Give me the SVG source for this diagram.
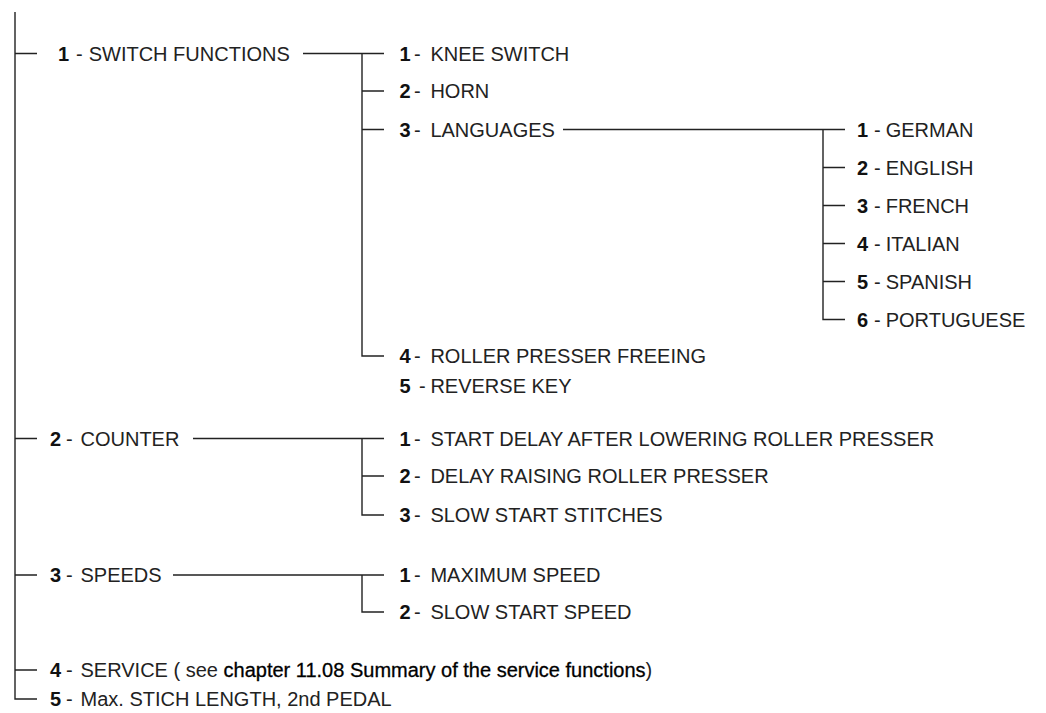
<svg xmlns="http://www.w3.org/2000/svg" width="1046" height="713" viewBox="0 0 1046 713">
<style>
text{font-family:"Liberation Sans",Arial,sans-serif;font-size:20px;fill:#222}
.n{font-weight:bold;fill:#111}
.c{fill:none;stroke:#222;stroke-width:1.4}
.d{fill:#000;stroke:#000;stroke-width:0.3}
</style>
<rect width="1046" height="713" fill="#fff"/>
<g id="connectors" class="c">
<path d="M15,12 V699 H37"/>
<path d="M15,53.5 H37 M15,438.5 H37 M15,575 H37 M15,670 H37"/>
<path d="M303,53.5 H384 M362,53.5 V356 H384 M362,91 H384 M362,129.5 H384"/>
<path d="M563,129.5 H845 M823,129.5 V319.5 H845 M823,167.5 H845 M823,205.5 H845 M823,243.5 H845 M823,281.5 H845"/>
<path d="M193,438.5 H384 M362,438.5 V515 H384 M362,476 H384"/>
<path d="M173,575 H384 M362,575 V612 H384"/>
</g>
<g id="n1"><text y="60.5"><tspan class="n" x="58">1</tspan><tspan x="76">-</tspan><tspan x="88.7">SWITCH FUNCTIONS</tspan></text></g>
<g id="n1-1"><text y="60.5"><tspan class="n" x="399.5">1</tspan><tspan x="414">-</tspan><tspan x="430.4">KNEE SWITCH</tspan></text></g>
<g id="n1-2"><text y="98"><tspan class="n" x="399.5">2</tspan><tspan x="414">-</tspan><tspan x="430.4">HORN</tspan></text></g>
<g id="n1-3"><text y="136.5"><tspan class="n" x="399.5">3</tspan><tspan x="414">-</tspan><tspan x="430.4">LANGUAGES</tspan></text></g>
<g id="n1-3-1"><text y="136.5"><tspan class="n" x="857">1</tspan><tspan x="874">-</tspan><tspan x="885.7">GERMAN</tspan></text></g>
<g id="n1-3-2"><text y="174.5"><tspan class="n" x="857">2</tspan><tspan x="874">-</tspan><tspan x="885.7">ENGLISH</tspan></text></g>
<g id="n1-3-3"><text y="212.5"><tspan class="n" x="857">3</tspan><tspan x="874">-</tspan><tspan x="885.7">FRENCH</tspan></text></g>
<g id="n1-3-4"><text y="250.5"><tspan class="n" x="857">4</tspan><tspan x="874">-</tspan><tspan x="885.7">ITALIAN</tspan></text></g>
<g id="n1-3-5"><text y="288.5"><tspan class="n" x="857">5</tspan><tspan x="874">-</tspan><tspan x="885.7">SPANISH</tspan></text></g>
<g id="n1-3-6"><text y="326.5"><tspan class="n" x="857">6</tspan><tspan x="874">-</tspan><tspan x="885.7">PORTUGUESE</tspan></text></g>
<g id="n1-4"><text y="363"><tspan class="n" x="399.5">4</tspan><tspan x="414">-</tspan><tspan x="430.4">ROLLER PRESSER FREEING</tspan></text></g>
<g id="n1-5"><text y="393"><tspan class="n" x="399.5">5</tspan><tspan x="419">-</tspan><tspan x="430.4">REVERSE KEY</tspan></text></g>
<g id="n2"><text y="445.5"><tspan class="n" x="50">2</tspan><tspan x="66">-</tspan><tspan x="80.5">COUNTER</tspan></text></g>
<g id="n2-1"><text y="445.5"><tspan class="n" x="399.5">1</tspan><tspan x="414">-</tspan><tspan x="430.4">START DELAY AFTER LOWERING ROLLER PRESSER</tspan></text></g>
<g id="n2-2"><text y="483"><tspan class="n" x="399.5">2</tspan><tspan x="414">-</tspan><tspan x="430.4">DELAY RAISING ROLLER PRESSER</tspan></text></g>
<g id="n2-3"><text y="522"><tspan class="n" x="399.5">3</tspan><tspan x="414">-</tspan><tspan x="430.4">SLOW START STITCHES</tspan></text></g>
<g id="n3"><text y="582"><tspan class="n" x="50">3</tspan><tspan x="66">-</tspan><tspan x="80.5">SPEEDS</tspan></text></g>
<g id="n3-1"><text y="582"><tspan class="n" x="399.5">1</tspan><tspan x="414">-</tspan><tspan x="430.4">MAXIMUM SPEED</tspan></text></g>
<g id="n3-2"><text y="619"><tspan class="n" x="399.5">2</tspan><tspan x="414">-</tspan><tspan x="430.4">SLOW START SPEED</tspan></text></g>
<g id="n4"><text y="677"><tspan class="n" x="50">4</tspan><tspan x="66">-</tspan><tspan x="80.5">SERVICE ( see </tspan><tspan class="d">chapter 11.08 Summary of the service functions</tspan><tspan>)</tspan></text></g>
<g id="n5"><text y="706"><tspan class="n" x="50">5</tspan><tspan x="66">-</tspan><tspan x="80.5">Max. STICH LENGTH, 2nd PEDAL</tspan></text></g>
</svg>
